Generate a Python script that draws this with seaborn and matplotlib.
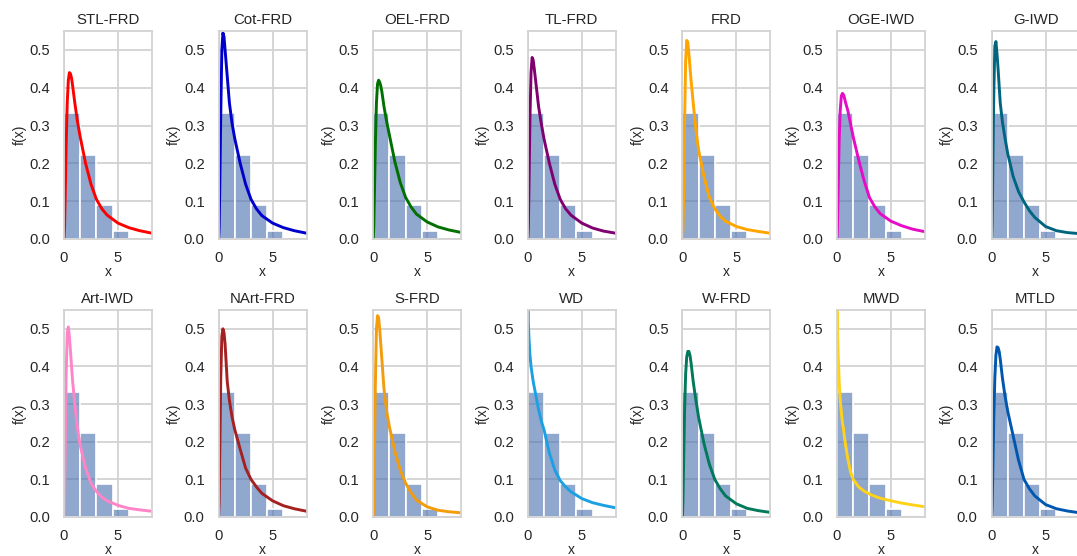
import numpy as np
import pandas as pd
import matplotlib
matplotlib.use("Agg")
import matplotlib.pyplot as plt
import seaborn as sns

# ---- data ----
hist_edges = [0.0, 1.5, 3.0, 4.5, 6.0]
hist_counts = [15, 10, 4, 1]

x_grid = [0, 0.05, 0.1, 0.2, 0.3, 0.4, 0.5, 0.6, 0.7, 0.8, 1.0, 1.25, 1.5,
          2.0, 2.5, 3.0, 3.5, 4.0, 5.0, 6.0, 7.0, 8.2]

stl_frd  = [0, 0.03, 0.10, 0.25, 0.36, 0.42, 0.44, 0.437, 0.425, 0.405, 0.36, 0.31, 0.27, 0.20, 0.145, 0.105, 0.08, 0.063, 0.042, 0.030, 0.022, 0.015]
cot_frd  = [0, 0.03, 0.12, 0.33, 0.50, 0.545, 0.535, 0.50, 0.465, 0.43, 0.36, 0.305, 0.265, 0.20, 0.145, 0.105, 0.08, 0.062, 0.042, 0.030, 0.022, 0.015]
oel_frd  = [0, 0.03, 0.10, 0.25, 0.36, 0.41, 0.42, 0.415, 0.405, 0.39, 0.35, 0.31, 0.275, 0.205, 0.15, 0.11, 0.085, 0.066, 0.045, 0.032, 0.024, 0.017]
tl_frd   = [0, 0.03, 0.12, 0.32, 0.44, 0.48, 0.473, 0.45, 0.425, 0.40, 0.35, 0.305, 0.265, 0.20, 0.145, 0.105, 0.08, 0.063, 0.042, 0.029, 0.021, 0.015]
frd      = [0, 0.03, 0.10, 0.30, 0.47, 0.525, 0.52, 0.49, 0.455, 0.42, 0.36, 0.29, 0.235, 0.165, 0.11, 0.08, 0.06, 0.047, 0.033, 0.025, 0.020, 0.015]
oge_iwd  = [0, 0.04, 0.12, 0.26, 0.34, 0.378, 0.385, 0.382, 0.372, 0.36, 0.34, 0.305, 0.27, 0.21, 0.155, 0.11, 0.085, 0.067, 0.047, 0.035, 0.026, 0.019]
g_iwd    = [0, 0.04, 0.15, 0.38, 0.51, 0.522, 0.49, 0.45, 0.405, 0.36, 0.31, 0.265, 0.225, 0.165, 0.125, 0.098, 0.075, 0.057, 0.033, 0.022, 0.017, 0.014]
art_iwd  = [0, 0.04, 0.15, 0.38, 0.49, 0.505, 0.48, 0.44, 0.40, 0.36, 0.30, 0.235, 0.19, 0.13, 0.09, 0.068, 0.053, 0.043, 0.031, 0.023, 0.019, 0.015]
nart_frd = [0, 0.04, 0.15, 0.37, 0.48, 0.50, 0.49, 0.46, 0.41, 0.36, 0.31, 0.265, 0.232, 0.18, 0.13, 0.10, 0.08, 0.063, 0.043, 0.030, 0.022, 0.015]
s_frd    = [0, 0.03, 0.12, 0.35, 0.50, 0.535, 0.53, 0.50, 0.46, 0.42, 0.34, 0.28, 0.24, 0.175, 0.125, 0.09, 0.065, 0.045, 0.027, 0.018, 0.014, 0.011]
wd       = [0.9, 0.52, 0.48, 0.43, 0.40, 0.38, 0.36, 0.345, 0.33, 0.315, 0.285, 0.255, 0.232, 0.17, 0.125, 0.097, 0.08, 0.067, 0.049, 0.038, 0.031, 0.024]
w_frd    = [0, 0.04, 0.12, 0.28, 0.38, 0.425, 0.44, 0.44, 0.43, 0.41, 0.36, 0.31, 0.265, 0.195, 0.14, 0.10, 0.075, 0.056, 0.035, 0.023, 0.017, 0.012]
mwd      = [1.2, 0.50, 0.44, 0.36, 0.31, 0.28, 0.25, 0.235, 0.21, 0.19, 0.155, 0.12, 0.10, 0.08, 0.069, 0.061, 0.055, 0.05, 0.043, 0.037, 0.032, 0.027]
mtld     = [0, 0.03, 0.10, 0.26, 0.37, 0.43, 0.452, 0.45, 0.44, 0.42, 0.37, 0.32, 0.28, 0.215, 0.15, 0.10, 0.075, 0.056, 0.033, 0.022, 0.016, 0.011]

titles = ["STL-FRD", "Cot-FRD", "OEL-FRD", "TL-FRD", "FRD", "OGE-IWD", "G-IWD",
          "Art-IWD", "NArt-FRD", "S-FRD", "WD", "W-FRD", "MWD", "MTLD"]
curves = [stl_frd, cot_frd, oel_frd, tl_frd, frd, oge_iwd, g_iwd,
          art_iwd, nart_frd, s_frd, wd, w_frd, mwd, mtld]
colors = ["#FF0000", "#0000CD", "#007000", "#800070", "#FFA500", "#E60BC5", "#00667F",
          "#FF85C8", "#A52020", "#F39C0C", "#1BA1E2", "#007A5A", "#FFD21A", "#0057B0"]

# ---- style ----
sns.set_theme(style="whitegrid")
plt.rcParams["font.family"] = ["Liberation Sans", "DejaVu Sans"]
plt.rcParams.update({
    "xtick.labelsize": 10.6,
    "ytick.labelsize": 10.6,
    "axes.labelsize": 10,
    "axes.titlesize": 10.8,
    "grid.linewidth": 1.3,
    "axes.linewidth": 1.3,
    "grid.color": "#d2d2d2",
    "axes.edgecolor": "#d2d2d2",
    "xtick.major.pad": 3,
    "ytick.major.pad": 4,
})

W, H = 1077, 556
fig = plt.figure(figsize=(W / 100, H / 100), dpi=100)

bin_mids = [(hist_edges[i] + hist_edges[i + 1]) / 2 for i in range(len(hist_counts))]

ax_w = 88
lefts = [64 + 154.6 * i for i in range(7)]
tops = [31, 310]
heights = [208, 207]

for k, (title, vals, col) in enumerate(zip(titles, curves, colors)):
    r, c = divmod(k, 7)
    left = lefts[c]
    top = tops[r]
    ax_h = heights[r]
    ax = fig.add_axes([left / W, 1 - (top + ax_h) / H, ax_w / W, ax_h / H])
    sns.histplot(x=bin_mids, weights=hist_counts, bins=hist_edges, stat="density",
                 color="#4C72B0", alpha=0.62, edgecolor="white", linewidth=1.2, ax=ax)
    sns.lineplot(x=x_grid, y=vals, color=col, linewidth=2.1, ax=ax)
    ax.set_xlim(0, 8.15)
    ax.set_ylim(0, 0.55)
    ax.set_xticks([0, 5])
    ax.set_yticks([0.0, 0.1, 0.2, 0.3, 0.4, 0.5])
    ax.set_title(title, pad=5)
    ax.set_xlabel("x", labelpad=0)
    ax.set_ylabel("f(x)", labelpad=2)

fig.savefig("out.png", dpi=100)
